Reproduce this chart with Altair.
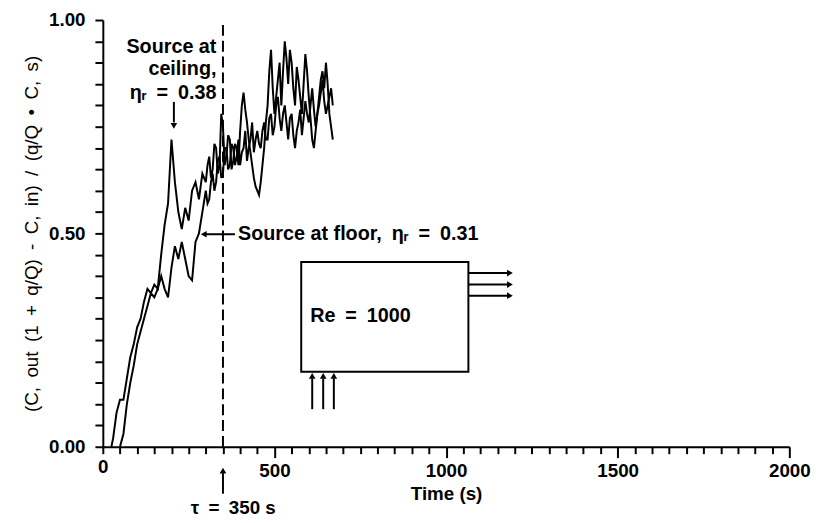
import altair as alt
import pandas as pd

# ---------------- data ----------------
ceiling_time = [25, 30, 40, 50, 60, 70, 80, 90, 100, 110, 120, 130, 140, 150, 160, 170,
                180, 190, 200, 210, 220, 230, 240, 250, 260, 270, 280, 290] + list(range(300, 671, 5))
ceiling_value = [0.00, 0.02, 0.08, 0.11, 0.11, 0.16, 0.21, 0.24, 0.28, 0.30, 0.34, 0.37,
                 0.36, 0.38, 0.37, 0.45, 0.52, 0.57, 0.72, 0.62, 0.55, 0.51, 0.56, 0.53,
                 0.60, 0.62, 0.58, 0.64,
                 0.62, 0.66, 0.68, 0.63, 0.65, 0.71, 0.70, 0.64, 0.66, 0.78,
                 0.75, 0.66, 0.68, 0.73, 0.72, 0.65, 0.67, 0.71, 0.70, 0.66,
                 0.74, 0.80, 0.83, 0.79, 0.76, 0.72, 0.69, 0.66, 0.63, 0.61,
                 0.60, 0.59, 0.62, 0.66, 0.70, 0.76, 0.80, 0.88, 0.93, 0.84,
                 0.78, 0.82, 0.86, 0.90, 0.80, 0.88, 0.95, 0.91, 0.85, 0.93,
                 0.90, 0.84, 0.80, 0.89, 0.86, 0.82, 0.78, 0.85, 0.92, 0.88,
                 0.82, 0.77, 0.72, 0.70, 0.74, 0.78, 0.82, 0.86, 0.88, 0.84,
                 0.90, 0.85, 0.78, 0.75, 0.72]

floor_time = [50, 60, 70, 80, 90, 100, 110, 120, 130, 140, 150, 160, 170, 180, 190, 200,
              210, 220, 230, 240, 250, 260, 270, 280, 290] + list(range(300, 671, 5))
floor_value = [0.00, 0.03, 0.10, 0.15, 0.19, 0.24, 0.27, 0.30, 0.33, 0.36, 0.35, 0.37,
               0.40, 0.37, 0.35, 0.42, 0.47, 0.44, 0.48, 0.44, 0.40, 0.39, 0.48, 0.50,
               0.55,
               0.60, 0.57, 0.58, 0.62, 0.64, 0.60, 0.62, 0.67, 0.68, 0.63,
               0.64, 0.70, 0.70, 0.65, 0.66, 0.71, 0.70, 0.66, 0.68, 0.72,
               0.66, 0.69, 0.70, 0.74, 0.67, 0.70, 0.72, 0.76, 0.69, 0.72,
               0.74, 0.71, 0.70, 0.74, 0.76, 0.72, 0.72, 0.77, 0.78, 0.73,
               0.75, 0.80, 0.82, 0.77, 0.74, 0.78, 0.80, 0.76, 0.72, 0.77,
               0.78, 0.73, 0.70, 0.74, 0.76, 0.79, 0.73, 0.77, 0.81, 0.78,
               0.76, 0.80, 0.84, 0.79, 0.75, 0.78, 0.80, 0.83, 0.86, 0.81,
               0.78, 0.80, 0.82, 0.84, 0.80]

x_tick_values = list(range(0, 2001, 50))
y_tick_values = [round(i * 0.05, 2) for i in range(21)]

tau = 350
SP = "\u2002"  # en space, the original typesetting has wide word spaces
y_title = SP.join(["(C,", "out", "(1", "+", "q/Q)", "-", "C,", "in)", "/", "(q/Q", "\u2022", "C,", "s)"])
x_title = "Time (s)"

# annotation texts and anchor points (data units)
ceiling_lines = ["Source at", "ceiling,", "\u03b7\u1d63" + SP + "=" + SP + "0.38"]
ceiling_line_t = [331, 331, 331]
ceiling_line_v = [0.9375, 0.884, 0.829]
floor_label = "Source at floor," + SP + "\u03b7\u1d63" + SP + "=" + SP + "0.31"
re_label = "Re" + SP + "=" + SP + "1000"
tau_label = "\u03c4" + SP + "=" + SP + "350 s"

FONT = "Liberation Sans"

assert len(ceiling_time) == len(ceiling_value), (len(ceiling_time), len(ceiling_value))
assert len(floor_time) == len(floor_value), (len(floor_time), len(floor_value))

lines_df = pd.concat([
    pd.DataFrame({"t": ceiling_time, "v": ceiling_value, "series": "ceiling"}),
    pd.DataFrame({"t": floor_time, "v": floor_value, "series": "floor"}),
])

X = alt.Scale(domain=[0, 2000], nice=False)
Y = alt.Scale(domain=[0, 1], nice=False, zero=False)

x_axis = alt.Axis(
    values=x_tick_values, format="d", ticks=True,
    labelExpr="datum.value % 500 === 0 ? datum.label : ''",
    tickSize={"condition": {"test": "datum.value % 500 === 0 && datum.value > 0", "value": 11}, "value": 7},
    labelOverlap=False, labelFlush=False, labelPadding=4,
    labelFont=FONT, labelFontSize=19, labelFontWeight="bold", labelColor="black",
    titleFont=FONT, titleFontSize=19, titleFontWeight="bold", titleColor="black", titlePadding=4,
    domainColor="black", domainWidth=2, tickColor="black", tickWidth=2, grid=False,
)
y_axis = alt.Axis(
    values=y_tick_values, format=".2f", ticks=True,
    labelExpr="(round(datum.value * 100)) % 50 === 0 ? datum.label : ''",
    tickSize=8, labelOverlap=False, labelFlush=False, labelPadding=10,
    labelFont=FONT, labelFontSize=19, labelFontWeight="bold", labelColor="black",
    titleFont=FONT, titleFontSize=19, titleFontWeight="normal", titleColor="black", titlePadding=7,
    domainColor="black", domainWidth=2, tickColor="black", tickWidth=2, grid=False,
)


def xq():
    return alt.X("t:Q", scale=X, axis=x_axis, title=x_title)


def yq():
    return alt.Y("v:Q", scale=Y, axis=y_axis, title=y_title)


lines = alt.Chart(lines_df).mark_line(color="black", strokeWidth=2).encode(
    x=xq(), y=yq(), detail="series:N",
)

# dashed tau line
tau_df = pd.DataFrame({"t": [tau], "v": [0.0], "v2": [1.0]})
tau_rule = alt.Chart(tau_df).mark_rule(color="black", strokeWidth=2, strokeDash=[11, 5]).encode(
    x=xq(), y=yq(), y2="v2:Q")

# box
box_df = pd.DataFrame({"t": [578], "t2": [1065], "v": [0.176], "v2": [0.433]})
box = alt.Chart(box_df).mark_rect(fill="white", fillOpacity=0, stroke="black", strokeWidth=2).encode(
    x=xq(), x2="t2:Q", y=yq(), y2="v2:Q")

# arrow shafts
shaft_df = pd.DataFrame({
    "t":  [207, 385, 1065, 1065, 1065, 610, 642, 673, tau],
    "t2": [207, 298, 1180, 1180, 1180, 610, 642, 673, tau],
    "v":  [0.808, 0.498, 0.407, 0.380, 0.354, 0.088, 0.088, 0.088, -0.110],
    "v2": [0.760, 0.498, 0.407, 0.380, 0.354, 0.160, 0.160, 0.160, -0.062],
})
shafts = alt.Chart(shaft_df).mark_rule(color="black", strokeWidth=2).encode(
    x=xq(), x2="t2:Q", y=yq(), y2="v2:Q")

head_df = pd.DataFrame({
    "t": [207, 294, 1186, 1186, 1186, 610, 642, 673, tau],
    "v": [0.752, 0.498, 0.407, 0.380, 0.354, 0.166, 0.166, 0.166, -0.056],
    "shape": ["triangle-down", "triangle-left", "triangle-right", "triangle-right", "triangle-right",
              "triangle-up", "triangle-up", "triangle-up", "triangle-up"],
})
heads = alt.Chart(head_df).mark_point(filled=True, color="black", size=45, opacity=1).encode(
    x=xq(), y=yq(), shape=alt.Shape("shape:N", scale=None, legend=None))

# texts
ceil_df = pd.DataFrame({"t": ceiling_line_t, "v": ceiling_line_v, "label": ceiling_lines})
ceil_text = alt.Chart(ceil_df).mark_text(align="right", baseline="middle", font=FONT,
                                         fontSize=20, fontWeight="bold", color="black").encode(
    x=xq(), y=yq(), text="label:N")

left_df = pd.DataFrame({"t": [394, 604], "v": [0.498, 0.306], "label": [floor_label, re_label]})
left_text = alt.Chart(left_df).mark_text(align="left", baseline="middle", font=FONT,
                                         fontSize=20, fontWeight="bold", color="black").encode(
    x=xq(), y=yq(), text="label:N")

tau_text_df = pd.DataFrame({"t": [380], "v": [-0.1435], "label": [tau_label]})
tau_text = alt.Chart(tau_text_df).mark_text(align="center", baseline="middle", font=FONT,
                                            fontSize=19, fontWeight="bold", color="black").encode(
    x=xq(), y=yq(), text="label:N")

chart = alt.layer(lines, tau_rule, box, shafts, heads, ceil_text, left_text, tau_text).properties(
    width=695, height=432,
    padding={"left": 15, "top": 0, "right": 5, "bottom": 0},
).configure_view(stroke=None)

chart.save("out.html", embed_options={"renderer": "svg", "actions": False})
